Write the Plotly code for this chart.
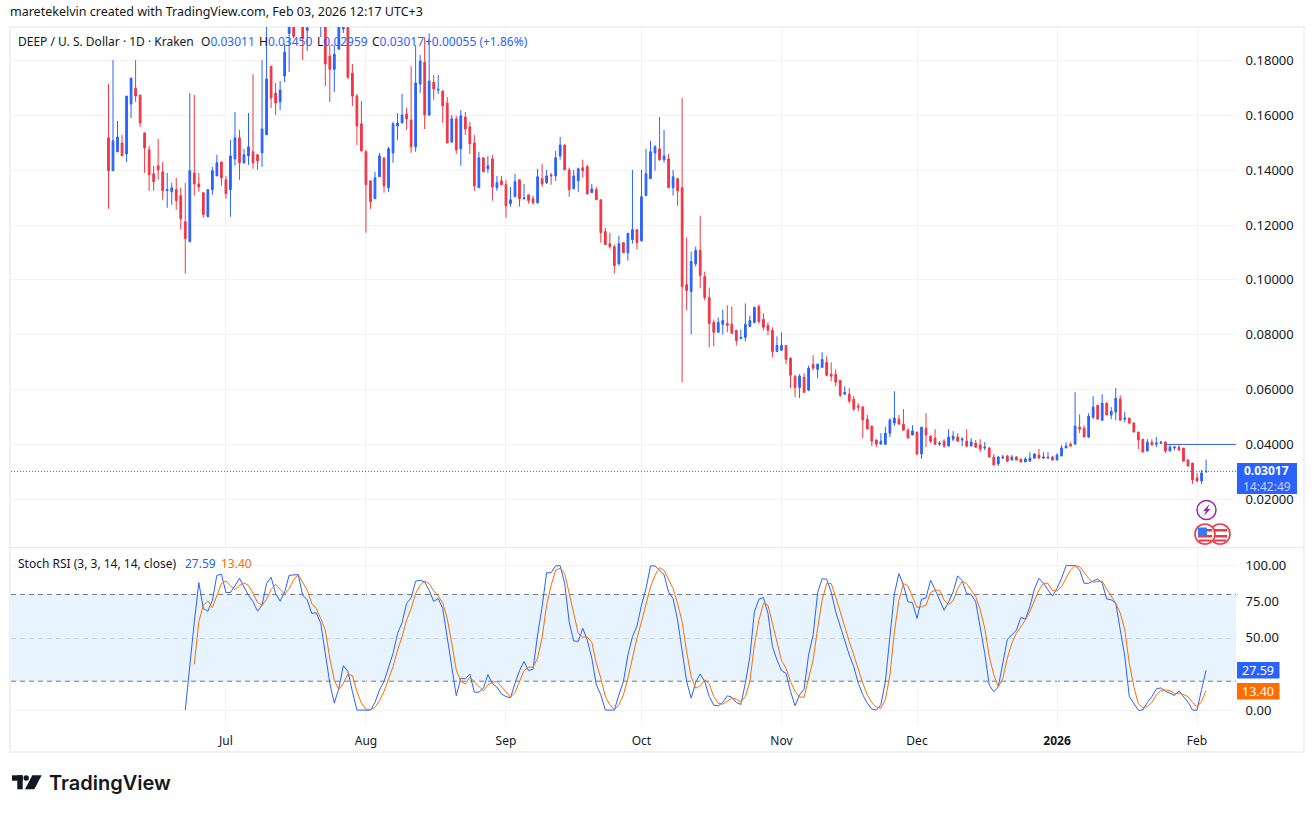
import pandas as pd
import plotly.graph_objects as go

# Candles, price values in thousandths of a dollar
direction = ("RBBRBBRRRR" "RRRBBRRRBR" "RRBBBRRBBR" "BBRRBBRRBB" "BRBRBBRBRR"
             "BBBRRRRRRB" "BRBBBBRRBB" "RBRBRRBRBR" "RRBRBRBRRB" "BRBRRBRBRB"
             "BRRBBRRBRR" "RRRBRBBRBB" "BBRBRBRRRB" "BRRRRBBRRR" "BBBBRRRRBB"
             "RRRBRBRBBR" "RRRBRRRRRR" "RBBBBRRRBR" "BRRRBRBBRB" "RBRRBRRBBR"
             "BRRBBBRBBR" "BBBRBRRBBR" "BRBBRBRRRR" "BRBBRBBRRR" "RRBB")

high = [171.4,180.1,157.9,152.9,167.0,173.6,180.1,167.4,153.6,148.9,
        141.6,151.4,143.0,139.0,135.4,137.2,133.6,135.4,168.1,167.4,
        139.0,131.8,132.9,141.2,145.6,143.0,137.9,151.0,161.2,154.7,
        147.8,160.8,175.0,145.9,180.1,197,177.9,171.8,172.5,186,
        205,199,210,199,196,210,211,208,205,185.6,
        185.6,203,195,197,178.7,167.8,165.2,147.4,136.1,139.4,
        146.3,144.5,148.5,157.6,160.8,167.8,162.7,177.9,185.6,182,
        188.5,189.9,174.7,174.7,169.2,166.7,160.1,159.8,161.9,161.2,
        157.6,152.8,146.7,144.5,145.2,145.6,137.9,137.9,136.5,133.9,
        138.7,136.5,135,131,130.7,140.5,142.3,140.1,139,147,
        152.1,149.2,140.9,140.1,140.9,143.8,141.9,135,133.9,129.2,
        119,117.2,112.9,116.1,113.6,117.2,140.1,118.3,140.1,147.8,
        150.7,149.2,159.4,154.7,145.9,140.1,136.9,166.3,115.4,110.3,
        112.1,123.4,103,97.2,85.5,86.3,89.2,90.7,90.3,81.6,
        81.9,91.4,87,90.3,91,87.8,84.5,82.7,79.4,80.8,
        76.1,71.8,65.2,65.6,65.9,68.8,72.5,69.6,73.6,72.1,
        69.9,67.4,63.4,61.2,60.5,57.6,55,54,50.7,46.7,
        41.9,44.1,46.3,49.6,59.4,50.7,52.9,45.9,47,44.5,
        46.3,51.4,43.4,45.6,41.2,41.9,45.6,44.9,44.1,42.7,
        45.6,42.3,41.6,41.9,40.9,39,36.5,35.8,36.2,36.2,
        36.2,35.8,34.7,35.4,37.2,36.8,38.3,37.2,37.2,35.8,
        36.8,39.8,40.8,40.8,59,51,47,51.4,57.6,54.3,
        58.3,55.4,53.6,60.5,57.9,51.8,49.6,48.1,44.5,41.9,
        41.9,41.9,42.7,41.2,41.2,39.8,39.4,39.8,38.7,34.7,
        33.2,29.6,30.7,34.5]

body_top = [151.8,150.7,152.1,149.9,167.0,173.6,169.9,167.4,153.6,147.4,
            138.7,141.6,139.4,132.9,133.6,132.9,130.7,121.2,139.8,139.0,
            135.0,131.8,132.9,139.8,142.7,143.0,136.5,145.2,151.8,151.8,
            145.6,148.5,146.7,145.6,155.0,173.2,177.9,168.1,169.2,183,
            198,195,205,196,191.9,207,206,204,194,181.6,
            182.3,195,192,192,175.4,167,156.9,146.7,136.1,137.2,
            145.2,144.5,147.8,156.9,157.2,160.1,160.5,158.3,171.8,179.8,
            179.4,172.5,172.1,169.5,168.8,164.5,158.7,158.7,159.8,159.4,
            155.8,149.9,144.5,144.5,141.6,144.1,135.4,136.1,134.7,129.2,
            135.8,136.5,129.9,131,129.6,137.6,136.9,137.9,138.3,144.5,
            149.2,149.2,140.1,137.9,140.5,140.9,141.2,133.2,132.9,129.2,
            117.6,113.2,112.1,113.2,113.6,116.9,118.3,118.3,130.3,138.7,
            146.7,148.5,147.8,145.2,144.1,137.6,136.9,133.6,98.3,106.7,
            110.7,110.7,101.2,93.6,84.5,84.5,85.2,84.1,83.8,81.6,
            79,83.8,85.2,89.9,90.3,85.6,83.4,81.6,76.1,76.1,
            76.1,71.4,64.9,64.9,64.5,67.8,69.2,69.2,71,69.9,
            65.6,65.6,63.4,59,58.3,56.5,54,53.6,49.2,46.7,
            41.6,41.2,44.1,48.9,49.6,49.2,47.4,45.2,44.9,44.5,
            46.3,45.9,43,42.3,40.5,41.2,42.7,43,42.7,41.9,
            41.2,40.9,40.5,39.8,39,38.7,35.4,35.4,35.4,35.8,
            35.4,35.4,34.7,34.7,35,36.5,36.1,35.4,35.3,35.4,
            36.1,38.7,39.4,40.1,46.7,46.3,45.9,50.3,53.6,54.3,
            55,55,52.1,56.8,56.5,49.6,49.6,47.8,44.5,41.9,
            40.8,40.8,40.5,40.8,40.8,39,39,39,38.7,34.3,
            33.2,27.8,29.6,30.17]

body_bottom = [139.8,139.8,146.7,145.2,145.9,164.1,167.0,157.2,148.1,138.3,
               135.8,140.1,132.5,132.6,132.1,128.9,122.3,115.0,113.9,135.0,
               133.9,123.8,123.0,132.9,137.9,137.2,131.4,132.9,144.1,142.7,
               142.7,145.2,142.7,143.4,146.3,152.9,166.3,164.5,164.9,174.3,
               189.8,188.8,198,188,191,200,199,195,178.7,176.8,
               176.8,184.1,191.5,173.9,167,156.1,147,134.7,128.5,129.6,
               137.6,134.3,133.6,146.3,156.1,157.2,158.7,148.5,148.5,171.4,
               160.1,160.1,169.6,169.2,163.4,149.9,150.3,147.4,147.8,155,
               149.6,134.3,133.6,139.4,140.5,133.9,133.6,134.7,127,127.8,
               130.3,129.6,129.6,128.9,128.1,128.1,135,135.4,137.9,137.9,
               145.2,140.1,132.9,133.2,136.1,139.8,131.4,131.8,129.2,117.2,
               112.9,112.1,105.2,105.9,109.9,109.9,114.7,113.6,114.3,130.7,
               136.9,146.3,143.8,143.8,133.6,133.6,132.5,97.6,96.1,95.8,
               105.9,101.6,93.6,84.1,80.9,80.9,83.8,83.4,80.5,77.9,
               78.7,79,83,84.5,84.8,82.7,81.6,73.9,73.9,74.3,
               71,65.2,60.8,60.8,59,59.8,67.8,67.4,68.1,65.2,
               64.9,62.7,57.9,58.3,55.8,52.9,53.6,48.9,45.6,41.2,
               40.1,40.1,40.1,44.1,47.8,47.4,45.2,42.3,43.4,36.5,
               36.5,43.4,41.2,40.1,40.1,39.4,39.4,41.9,41.2,41.6,
               39.4,39.4,39,38.3,38.7,35.4,32.5,32.9,35,33.9,
               34.3,34.3,33.6,33.6,33.9,35,35,35,35,34.3,
               34.3,35.8,38.7,39.4,40.1,45.6,42.7,42.7,49.9,49.2,
               48.8,50.7,50.7,51.8,48.8,49.2,47.8,44.5,41.6,37.2,
               37.6,39.8,40.1,40.5,37.6,37.6,38.7,37.9,33.9,32.1,
               27,26.7,26.7,30.11]

low = [125.9,139.8,146.7,145.2,143.0,159.0,164.9,155.8,139.0,132.5,
       132.5,136.5,129.2,126.3,127.4,125.6,118.3,102.3,113.9,130.7,
       132.1,122.7,123.0,131.0,137.9,134.3,129.6,123.0,141.6,136.5,
       142.3,141.9,140.5,140.1,141.2,152.9,162.7,160.1,161.9,172.1,
       175.8,188,196,180.1,183.5,197,196,188.5,170.7,164.9,
       168.5,184.1,190,173.2,163.4,149.2,147,117.2,125.9,129.6,
       137.6,131.8,132.1,142.7,151,157.2,154.7,146.3,146.7,168.1,
       155,159.8,165.6,167.8,157.2,149.9,149.9,145.9,141.6,152.8,
       145.9,132.5,133.6,139.4,139,128.9,132.5,134.7,122.7,126.7,
       130.3,126.7,129.2,127.8,127.4,127.8,133.9,135,134.7,136.1,
       143.8,140.1,130.3,133.2,132.1,137.2,131,131.8,129.2,113.6,
       112.9,111.4,102.3,105.2,109.9,107,113.2,111,113.9,130.7,
       136.9,139.8,143.4,142.7,133.6,130.7,127,62.7,88.9,80.1,
       104.9,96.9,92.5,75.4,75.8,80.9,80.1,80.9,80.5,76.1,
       78.3,77.6,83,84.1,84.1,81.6,79.8,71.8,73.6,74.3,
       69.2,60.5,57.2,56.9,58.7,59.4,67,64.1,68.1,65.2,
       63,61.2,57.2,58.3,55,52.1,52.1,42.3,45.6,39.4,
       39,40.1,39.8,42.7,46.7,47.4,44.9,42.3,43.4,36.1,
       34.7,39,40.5,39.8,39.4,38.7,39.4,41.2,41.2,39.4,
       39,39.4,39,37.2,37.9,35.4,32.5,32.1,35,33.6,
       34.3,34.3,33.6,33.6,33.9,35,35,34.7,35,34.3,
       34.3,35.8,38.7,39.4,40.1,44.1,42.7,42.3,49.2,49.2,
       48.8,50.7,49.2,48.8,48.8,48.1,47.4,44.5,38.3,37.2,
       37.6,39.8,39,40.1,36.8,37.6,37.9,37.9,33.9,32.1,
       25.6,26.3,25.6,29.59]

# Stoch RSI %K, one value per day from the first value on the left
stoch_k = [0,32.4,61,88.2,70.3,68.5,76,93.3,94,81.4,
           81.4,86,91.3,85.3,79.5,75,68.5,72.6,87.6,92,
           80.7,75.4,81.8,93.3,93.8,93.8,79.5,76.3,66.9,67.4,
           60,39.3,18.6,4.8,15.2,30.8,26.7,12.9,0,0,
           0,0,5.3,14,19.8,30.1,39.3,53.1,60.5,73.8,
           77.7,89.2,89.9,88.7,83,75.2,77.2,70.3,50.8,29,
           9.9,22.1,21.6,25,12.4,12.4,15.2,24.6,18.2,15.9,
           11.2,9.4,8.5,18.6,27.4,33.6,27.4,28.3,52,71.5,
           95,95.2,99.8,100,87.6,61,47.8,47.6,56.6,48.5,
           35.9,17.5,10.6,0,0,0,10.6,19.8,38.2,50.8,
           58.2,72.6,84.1,99.8,99.8,96.8,93.8,81.8,77.2,62.3,
           41.6,19.8,8.3,19.3,25,19.8,9.4,3.4,3,5.3,
           9.9,9,5.3,3.9,18.6,37,68,76.8,77.9,66.9,
           43.9,34.7,27.4,25.5,12.9,3,10.6,14.5,38.2,52,
           81.2,91,90.6,81.8,68,57.7,47.4,38.2,30.1,18.6,
           10.6,4.8,0.7,0,3.7,19.8,50.8,80.7,94.5,86.4,
           75,74.3,63.4,76.8,77.7,89.9,83.4,76,69.1,74.9,
           81.8,92.9,89.6,80.6,80.1,74.9,57.6,39.2,17.3,12.7,
           16.1,32.3,49,52,55.4,64.1,62.9,71.7,83.9,91.2,
           87.8,83.2,79,84.3,91.2,100,100,100,97,87.8,
           87.8,89.4,90.8,87.8,77,76.3,74,55.6,37.2,9.4,
           4.8,0,0,5.3,9.4,14.7,15.4,12.9,11.8,10.1,
           13.4,9.4,5.5,0,0,14.1,27.59]

# Stoch RSI %D, starts two days after %K
stoch_d = [31.7,61.1,72.6,75.6,71,78.9,87.6,89.4,
           86,83.4,86.4,88,86.4,80.7,74.5,72.6,76.8,83.4,
           87.1,83.7,80.2,84.1,90.3,93.8,88.7,83,73.8,70.3,
           63.4,55.4,35.9,20.5,14,18.6,25,23.7,12.9,4.8,
           0.7,0.4,1.8,6.7,12.9,20.9,30.1,41.6,50.8,62.3,
           70.3,80.7,86.4,89.2,87.6,82.5,78.9,74.2,63.4,46.2,
           27.8,19.8,18.2,22.8,19.8,16.3,13.3,17.5,19.3,19.8,
           16,12.4,9,12.2,19.8,27.4,29.7,29.7,35.9,50.3,
           72.6,86.4,96.8,98.2,94.5,80.7,65.1,53.1,50.6,50.6,
           46.9,32.4,22.1,9.4,3.7,0.2,3.7,10.6,22.1,37,
           49.7,61.1,72.6,85.3,93.3,98.6,96.8,89.9,84.1,73.8,
           61.1,40.5,23.2,15.2,16.8,20.9,18.2,9.4,4.8,4.1,
           6.4,8.3,7.6,5.5,9.4,19.8,45.1,62.3,73.8,72.6,
           60,46.2,34.3,29,19.8,12.9,9,9,22.1,34.7,
           56.6,76.1,87.6,87.6,78.4,68,56.6,47.4,38.2,27.8,
           18.6,10.6,5.3,2,1.4,7.1,24.1,54.3,76.1,87.6,
           86,78.4,71,71.5,72.6,81.4,83,83,76.1,73.3,
           75.6,84.1,89.2,87.6,83.4,78.6,69.4,56.7,37.2,24.5,
           16.1,22.1,36,46.3,53.2,57.8,62.4,68.2,75.1,83.2,
           87.8,87.8,82.7,82.5,85.5,91.2,97,100,99.3,95.2,
           91.2,88.5,89,89.4,83.7,79,74,67.1,55.6,32.5,
           16.4,4.4,1.6,2.5,5.3,10.6,13.6,14,13.4,11.3,
           11.8,10.8,9.4,5.3,2.3,6,13.4]

last_date = "2026-02-03"
last_close = 0.03017
level_price = 0.04
level_start = "2026-01-25"
price_ticks = [0.18, 0.16, 0.14, 0.12, 0.10, 0.08, 0.06, 0.04, 0.02]
stoch_ticks = [0, 25, 50, 75, 100]
stoch_tick_labels = ["0.00", "", "50.00", "75.00", "100.00"]
band_levels = [20, 50, 80]
month_ticks = ["2025-07-01", "2025-08-01", "2025-09-01", "2025-10-01",
               "2025-11-01", "2025-12-01", "2026-01-01", "2026-02-01"]
month_labels = ["Jul", "Aug", "Sep", "Oct", "Nov", "Dec", "<b>2026</b>", "Feb"]

UP, DOWN = "#2962FF", "#F23645"
ORANGE = "#FF6D00"
INK = "#131722"
GRID = "#F2F3F5"
FONT = "Noto Sans"
W, H = 1314, 813
L, R, T, B = 11, 1236, 27, 725


def px(x):
    return (x - L) / (R - L)


def py(y):
    return (B - y) / (B - T)


n = len(high)
dates = pd.date_range(end=last_date, periods=n, freq="D")
opens = [(b if d == "B" else t) / 1000 for d, t, b in zip(direction, body_top, body_bottom)]
closes = [(t if d == "B" else b) / 1000 for d, t, b in zip(direction, body_top, body_bottom)]
stoch_dates = pd.date_range(end=last_date, periods=len(stoch_k), freq="D")
stoch_d_dates = pd.date_range(end=last_date, periods=len(stoch_d), freq="D")
x_range = ["2025-05-14 10:00", "2026-02-09 15:00"]

fig = go.Figure()
fig.add_trace(go.Candlestick(
    x=dates, open=opens, high=[v / 1000 for v in high], low=[v / 1000 for v in low], close=closes,
    xaxis="x", yaxis="y", whiskerwidth=0,
    increasing=dict(line=dict(color=UP, width=1), fillcolor=UP),
    decreasing=dict(line=dict(color=DOWN, width=1), fillcolor=DOWN),
    showlegend=False, name="DEEP"))
fig.add_trace(go.Scatter(
    x=[level_start, x_range[1]], y=[level_price, level_price], mode="lines",
    line=dict(color=UP, width=1), xaxis="x", yaxis="y", showlegend=False))
fig.add_trace(go.Scatter(
    x=x_range, y=[last_close, last_close], mode="lines",
    line=dict(color=UP, width=1, dash="1px,2px"), xaxis="x", yaxis="y", showlegend=False))
fig.add_trace(go.Scatter(
    x=stoch_dates, y=stoch_k, mode="lines", line=dict(color=UP, width=1),
    xaxis="x2", yaxis="y2", showlegend=False, name="K"))
fig.add_trace(go.Scatter(
    x=stoch_d_dates, y=stoch_d, mode="lines", line=dict(color=ORANGE, width=1),
    xaxis="x2", yaxis="y2", showlegend=False, name="D"))

shapes = []


def rect(x0, y0, x1, y1, fill, line=None, lw=0, layer="above"):
    shapes.append(dict(type="rect", xref="paper", yref="paper", x0=px(x0), x1=px(x1), y0=py(y0), y1=py(y1),
                       fillcolor=fill, line=dict(color=line or fill, width=lw), layer=layer))


def circle(cx, cy, r, fill, line=None, lw=0):
    shapes.append(dict(type="circle", xref="paper", yref="paper", x0=px(cx - r), x1=px(cx + r),
                       y0=py(cy + r), y1=py(cy - r), fillcolor=fill,
                       line=dict(color=line or fill, width=lw), layer="above"))


def poly(points, fill):
    path = "M " + " L ".join(f"{px(a):.5f},{py(b):.5f}" for a, b in points) + " Z"
    shapes.append(dict(type="path", xref="paper", yref="paper", path=path, fillcolor=fill,
                       line=dict(width=0), layer="above"))


# outer frame and pane separator
shapes.append(dict(type="rect", xref="paper", yref="paper", x0=px(10), x1=px(1304), y0=py(752), y1=py(27),
                   line=dict(color="#F0F1F3", width=2), fillcolor="rgba(0,0,0,0)", layer="below"))
shapes.append(dict(type="line", xref="paper", yref="paper", x0=px(10), x1=px(1304), y0=py(547.5), y1=py(547.5),
                   line=dict(color="#E8EAED", width=1), layer="below"))
# Stoch RSI band and levels
shapes.append(dict(type="rect", xref="paper", yref="y2", x0=0, x1=1, y0=band_levels[0], y1=band_levels[2],
                   fillcolor="rgba(33,150,243,0.11)", line=dict(width=0), layer="below"))
for lvl, col in zip(band_levels, ["#787B86", "#9A9CA5", "#787B86"]):
    shapes.append(dict(type="line", xref="paper", yref="y2", x0=0, x1=1, y0=lvl, y1=lvl,
                       line=dict(color=col, width=1, dash="5px,4px"), layer="below"))
# price and stoch value boxes
rect(1237, 463, 1297, 494, UP)
rect(1237, 662, 1279.5, 678.5, UP)
rect(1237, 683, 1279.5, 699.5, ORANGE)
# event icons
circle(1206.5, 510, 9.5, "white", "#9C27B0", 1.5)
poly([(1209.5, 504), (1203, 511), (1206, 511), (1204, 516), (1210.5, 509), (1207.5, 509)], "#9C27B0")
for cx in (1220, 1205):
    circle(cx, 534, 10, "white", DOWN, 1.6)
    rect(cx - 7, 529, cx + 7, 531.5, DOWN)
    rect(cx - 7, 535, cx + 7, 537.5, DOWN)
    rect(cx - 6, 539.5, cx + 6, 541.5, DOWN)
    if cx == 1205:
        rect(cx - 7, 527.5, cx + 2, 535, "#3179F5")
# brand mark
rect(12, 775.3, 22.7, 780.7, INK)
rect(17.3, 775.3, 22.7, 789.3, INK)
circle(26.2, 778, 2.7, INK)
poly([(32.3, 775.3), (41.7, 775.3), (34.3, 789.3), (25, 789.3)], INK)

annots = []


def text(x, y, s, size=12, color=INK, anchor="left", family=FONT, weight=None):
    font = dict(family=family, size=size, color=color)
    if weight:
        font["weight"] = weight
    annots.append(dict(xref="paper", yref="paper", x=px(x), y=py(y), text=s, showarrow=False,
                       xanchor=anchor, yanchor="middle", align=anchor, borderpad=0, font=font))


def blue(s):
    return f'<span style="color:{UP}">{s}</span>'


text(9, 12, "maretekelvin created with TradingView.com, Feb 03, 2026 12:17 UTC+3", size=12.5)
text(17, 41.5, "DEEP / U. S. Dollar · 1D · Kraken")
text(200, 41.5, "O" + blue("0.03011"))
text(258, 41.5, "H" + blue("0.03450"))
text(316, 41.5, "L" + blue("0.02959"))
text(371, 41.5, "C" + blue("0.03017"))
text(424, 41.5, blue("+0.00055 (+1.86%)"))
text(17, 563, "Stoch RSI (3, 3, 14, 14, close)")
text(184, 563, blue("27.59"))
text(220, 563, f'<span style="color:{ORANGE}">13.40</span>')
text(1266.5, 470.5, "<b>0.03017</b>", color="white", anchor="center")
text(1266.5, 486, "14:42:49", color="#C6D3FF", anchor="center")
text(1258, 670.5, "27.59", color="white", anchor="center", size=12.5)
text(1258, 691.5, "13.40", color="white", anchor="center", size=12.5)
text(48, 783, "TradingView", size=20, family="Inter", weight=600)

tick_font = dict(family=FONT, size=13, color=INK)
fig.update_layout(
    width=W, height=H, autosize=False,
    margin=dict(l=L, r=W - R, t=T, b=H - B, pad=0),
    paper_bgcolor="white", plot_bgcolor="white",
    font=dict(family=FONT, size=12, color=INK),
    showlegend=False, boxgap=0.45, hovermode=False, dragmode=False,
    shapes=shapes, annotations=annots,
    xaxis=dict(domain=[0, 1], anchor="y", range=x_range, type="date", rangeslider=dict(visible=False),
               showticklabels=False, ticks="", tickvals=month_ticks, showgrid=True, gridcolor=GRID,
               zeroline=False, showline=False),
    xaxis2=dict(domain=[0, 1], anchor="y2", range=x_range, type="date", tickmode="array",
                tickvals=month_ticks, ticktext=month_labels, showgrid=True, gridcolor=GRID,
                ticks="outside", ticklen=5, tickcolor="rgba(0,0,0,0)", zeroline=False, showline=False,
                tickfont=dict(family=FONT, size=12, color=INK)),
    yaxis=dict(domain=[py(547), 1], anchor="x", side="right", range=[0.0026, 0.1922], tickmode="array",
               tickvals=price_ticks, ticktext=[f"{v:.5f}" for v in price_ticks], showgrid=True, gridcolor=GRID,
               ticks="outside", ticklen=6, tickcolor="rgba(0,0,0,0)", zeroline=False, showline=False,
               tickfont=tick_font),
    yaxis2=dict(domain=[0, py(548)], anchor="x2", side="right", range=[-10.3, 112.2], tickmode="array",
                tickvals=stoch_ticks, ticktext=stoch_tick_labels, showgrid=True, gridcolor=GRID,
                ticks="outside", ticklen=6, tickcolor="rgba(0,0,0,0)", zeroline=False, showline=False,
                tickfont=tick_font),
)

fig.write_html("out.html", config=dict(displayModeBar=False),
               post_script="document.body.style.margin='0';document.documentElement.style.overflow='hidden';")
